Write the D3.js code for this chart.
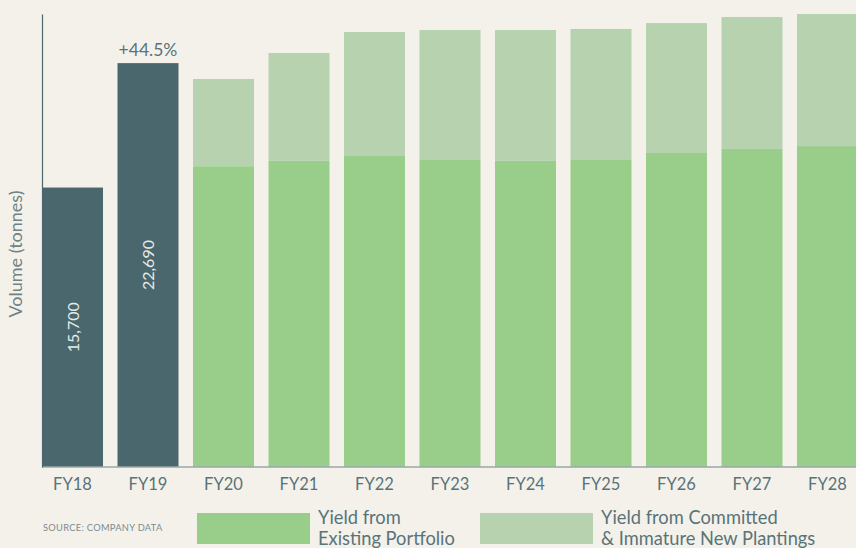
<!DOCTYPE html>
<html><head><meta charset="utf-8">
<script src="https://cdn.jsdelivr.net/npm/d3@7"></script>
<style>
html,body{margin:0;padding:0;background:#f4f1eb;}
svg{display:block;font-family:Lato,"Open Sans",sans-serif;}
</style></head>
<body><svg id="c" width="856" height="548"></svg>
<script>
const categories = ["FY18","FY19","FY20","FY21","FY22","FY23","FY24","FY25","FY26","FY27","FY28"];
const actual = [15700, 22690, null, null, null, null, null, null, null, null, null];
const existing = [null, null, 16900, 17200, 17470, 17250, 17200, 17250, 17640, 17870, 18030];
const committed = [null, null, 4900, 6060, 6970, 7300, 7350, 7360, 7300, 7410, 7420];
const actualLabels = ["15,700","22,690"];
const growthLabel = "+44.5%";
const legendLabels = [["Yield from","Existing Portfolio"],["Yield from Committed","& Immature New Plantings"]];
const yMax = 25450;

const svg = d3.select("#c");
const x = d3.scaleBand().domain(categories).range([42, 858]).paddingInner(0.192).paddingOuter(0);
const y = d3.scaleLinear().domain([0, yMax]).range([467, 14]);

const cDark = "#4a676d", cGreen = "#98cd8a", cLight = "#b6d2ae", cText = "#587479";

const g = svg.append("g");
categories.forEach((c, i) => {
  if (actual[i] != null) {
    g.append("rect").attr("x", x(c)).attr("width", x.bandwidth())
      .attr("y", y(actual[i])).attr("height", y(0) - y(actual[i])).attr("fill", cDark);
  } else {
    g.append("rect").attr("x", x(c)).attr("width", x.bandwidth())
      .attr("y", y(existing[i])).attr("height", y(0) - y(existing[i])).attr("fill", cGreen);
    g.append("rect").attr("x", x(c)).attr("width", x.bandwidth())
      .attr("y", y(existing[i] + committed[i])).attr("height", y(existing[i]) - y(existing[i] + committed[i])).attr("fill", cLight);
  }
});

actualLabels.forEach((t, i) => {
  const cx = x(categories[i]) + x.bandwidth() / 2;
  const cy = (y(actual[i]) + y(0)) / 2;
  svg.append("text").attr("transform", `translate(${cx + 6},${cy}) rotate(-90)`)
    .attr("text-anchor", "middle").attr("fill", "#e3ebea").attr("font-size", 16).text(t);
});

svg.append("text").attr("x", x("FY19") + x.bandwidth() / 2).attr("y", y(actual[1]) - 7)
  .attr("text-anchor", "middle").attr("fill", cText).attr("font-size", 17.5).text(growthLabel);

const xAxis = svg.append("g").attr("transform", "translate(0,467)").call(d3.axisBottom(x).tickSize(0).tickPadding(11));
xAxis.select(".domain").attr("stroke", "#9aa7a9").attr("stroke-width", 1.5).attr("d", "M42,0H858");
xAxis.selectAll("text").attr("fill", cText).attr("font-size", 16.5).attr("font-family", "Lato, 'Open Sans', sans-serif");

const yAxis = svg.append("g").attr("transform", "translate(42,0)").call(d3.axisLeft(y).ticks(0).tickSize(0));
yAxis.select(".domain").attr("stroke", cDark).attr("stroke-width", 1.2);
yAxis.selectAll(".tick").remove();

svg.append("text").attr("transform", "translate(22,254) rotate(-90)").attr("text-anchor", "middle")
  .attr("fill", "#6f8385").attr("font-size", 18).text("Volume (tonnes)");

svg.append("text").attr("x", 43).attr("y", 531).attr("fill", "#7b8c8e").attr("font-size", 9.3)
  .attr("letter-spacing", 0.3).text("SOURCE: COMPANY DATA");

const legendColors = [cGreen, cLight];
const legendX = [197, 480];
legendLabels.forEach((lines, i) => {
  svg.append("rect").attr("x", legendX[i]).attr("y", 513).attr("width", 113).attr("height", 31).attr("fill", legendColors[i]);
  const t = svg.append("text").attr("x", legendX[i] + 121).attr("y", 524).attr("fill", cText).attr("font-size", 18.3);
  lines.forEach((l, j) => t.append("tspan").attr("x", legendX[i] + 121).attr("dy", j ? 21 : 0).text(l));
});
</script></body></html>
